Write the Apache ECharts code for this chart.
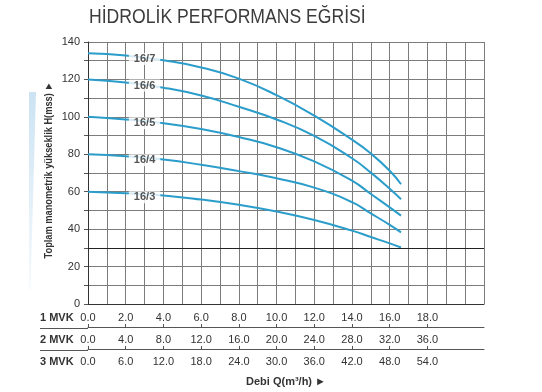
<!DOCTYPE html>
<html>
<head>
<meta charset="utf-8">
<script src="https://cdn.jsdelivr.net/npm/echarts@6/dist/echarts.min.js"></script>
<style>html,body{margin:0;padding:0;background:#fff}#c{width:542px;height:392px}</style>
</head>
<body>
<div id="c"></div>
<script>
// ---- data ----
const titleText = 'HİDROLİK PERFORMANS EĞRİSİ';
const yName = 'Toplam manometrik yükseklik H(mss) ►';
const xName = 'Debi Q(m³/h) ►';
const rowNames = ['1 MVK', '2 MVK', '3 MVK'];
const q1Labels = ['0.0','2.0','4.0','6.0','8.0','10.0','12.0','14.0','16.0','18.0'];
const q2Labels = ['0.0','4.0','8.0','12.0','16.0','20.0','24.0','28.0','32.0','36.0'];
const q3Labels = ['0.0','6.0','12.0','18.0','24.0','30.0','36.0','42.0','48.0','54.0'];
const yLabels = [0, 20, 40, 60, 80, 100, 120, 140];

const curveNames = ['16/7', '16/6', '16/5', '16/4', '16/3'];
const flowQ = [0, 2, 4, 6, 8, 10, 12, 14, 15, 16, 16.6];
const head167 = [134, 132.8, 130.2, 126.4, 120.4, 111.6, 100.6, 87.8, 80.4, 71.2, 64];
const head166 = [120, 118.4, 115.6, 111.4, 105.4, 98.6, 89.8, 77.9, 70.2, 61.6, 56];
const head165 = [100, 98.6, 96.6, 93.5, 89.2, 83.8, 76.2, 65.9, 58.8, 51.6, 47.2];
const head164 = [80, 79, 77.2, 74.4, 71, 67.2, 62.2, 54.4, 48.4, 42.3, 38.3];
const head163 = [60, 59.2, 58, 55.8, 53, 49.4, 44.9, 39.2, 35.8, 32.4, 30.2];
const labelQ = [3, 3, 3, 3, 3];
const labelH = [130.9, 116.7, 96.6, 76.8, 57.1];

const heads = [head167, head166, head165, head164, head163];
const BLUE = '#2b9dcb';
const GRIDC = '#7c7c7c';
const TXT = '#333';
const FONT = 'Liberation Sans, Arial, sans-serif';

const chart = echarts.init(document.getElementById('c'), null, {renderer: 'canvas'});

const lineSeries = heads.map((h, i) => ({
  name: curveNames[i],
  type: 'line',
  smooth: 0.5,
  showSymbol: false,
  symbol: 'none',
  xAxisIndex: 0, yAxisIndex: 0,
  data: flowQ.map((q, j) => [q, h[j]]),
  lineStyle: {color: BLUE, width: 2},
  z: 3,
  silent: true
}));
lineSeries[4].markLine = {
  silent: true, symbol: 'none', label: {show: false},
  lineStyle: {color: '#222', width: 1, type: 'solid'},
  data: [{yAxis: 30}]
};

const labelSeries = {
  type: 'scatter',
  xAxisIndex: 0, yAxisIndex: 0,
  symbolSize: 0,
  itemStyle: {color: 'rgba(0,0,0,0)'},
  z: 6,
  silent: true,
  data: curveNames.map((n, i) => ({value: [labelQ[i], labelH[i]], name: n})),
  label: {
    show: true, position: 'inside', formatter: p => p.name,
    color: '#2a2a2a', fontSize: 11, fontWeight: 'bold', fontFamily: FONT,
    backgroundColor: '#fff', padding: [1, 5, 0, 5]
  }
};

const baseX = {type: 'value', position: 'bottom', gridIndex: 0, splitLine: {show: false}};

chart.setOption({
  animation: false,
  textStyle: {fontFamily: FONT},
  grid: {left: 88, top: 42, width: 396, height: 263, containLabel: false},
  xAxis: [
    {
      type: 'value', min: 0, max: 21, interval: 1,
      axisLine: {show: true, lineStyle: {color: '#333', width: 1}},
      axisTick: {show: false},
      splitLine: {show: true, lineStyle: {color: GRIDC, width: 1}},
      axisLabel: {
        margin: 8, fontSize: 11, color: TXT,
        formatter: v => (v % 2 === 0 && v / 2 < q1Labels.length) ? q1Labels[v / 2] : ''
      }
    },
    Object.assign({}, baseX, {
      min: 0, max: 42, interval: 4, offset: 23,
      axisLine: {show: true, lineStyle: {color: '#555', width: 1}},
      axisTick: {show: true, inside: true, length: 3, lineStyle: {color: '#555'},
                 customValues: [0,4,8,12,16,20,24,28,32,36]},
      axisLabel: {
        margin: 7, fontSize: 11, color: TXT,
        formatter: v => (v % 4 === 0 && v / 4 < q2Labels.length) ? q2Labels[v / 4] : ''
      }
    }),
    Object.assign({}, baseX, {
      min: 0, max: 63, interval: 6, offset: 45,
      name: xName, nameLocation: 'middle', nameGap: 27,
      nameTextStyle: {fontSize: 11, fontWeight: 'bold', color: TXT},
      axisLine: {show: true, lineStyle: {color: '#555', width: 1}},
      axisTick: {show: true, inside: true, length: 3, lineStyle: {color: '#555'},
                 customValues: [0,6,12,18,24,30,36,42,48,54]},
      axisLabel: {
        margin: 7, fontSize: 11, color: TXT,
        formatter: v => (v % 6 === 0 && v / 6 < q3Labels.length) ? q3Labels[v / 6] : ''
      }
    })
  ],
  yAxis: [{
    type: 'value', min: 0, max: 140, interval: 10,
    axisLine: {show: true, lineStyle: {color: '#333', width: 1}},
    axisTick: {show: true, length: 4, lineStyle: {color: '#555'}},
    splitLine: {show: true, lineStyle: {color: GRIDC, width: 1}},
    axisLabel: {
      margin: 8, fontSize: 11, color: TXT,
      formatter: v => yLabels.indexOf(v) >= 0 ? String(v) : ''
    }
  }],
  graphic: [
    {type: 'text', x: 89, y: 17, scaleX: 0.88, silent: true,
     style: {text: titleText, fontSize: 20, fontFamily: FONT, fill: '#3c3c3c', align: 'left', verticalAlign: 'middle'}},
    {type: 'text', x: 49, y: 170, rotation: Math.PI / 2, scaleX: 0.84, silent: true,
     style: {text: yName, fontSize: 11, fontWeight: 'bold', fontFamily: FONT, fill: TXT, align: 'center', verticalAlign: 'middle'}},
    {type: 'polygon', silent: true, shape: {points: [[29, 92], [36, 92], [30.5, 290], [29, 290]]},
     style: {fill: new echarts.graphic.LinearGradient(0, 0, 0, 1, [
       {offset: 0, color: '#cce3f3'}, {offset: 1, color: '#f6fafd'}])}},
    {type: 'line', shape: {x1: 40, y1: 328.5, x2: 88, y2: 328.5}, style: {stroke: '#555', lineWidth: 1}},
    {type: 'line', shape: {x1: 40, y1: 350.5, x2: 88, y2: 350.5}, style: {stroke: '#555', lineWidth: 1}},
    {type: 'text', left: 40, top: 312, style: {text: rowNames[0], fontSize: 11, fontWeight: 'bold', fill: TXT, fontFamily: FONT}},
    {type: 'text', left: 40, top: 334, style: {text: rowNames[1], fontSize: 11, fontWeight: 'bold', fill: TXT, fontFamily: FONT}},
    {type: 'text', left: 40, top: 356, style: {text: rowNames[2], fontSize: 11, fontWeight: 'bold', fill: TXT, fontFamily: FONT}}
  ],
  series: lineSeries.concat([labelSeries])
});
</script>
</body>
</html>
